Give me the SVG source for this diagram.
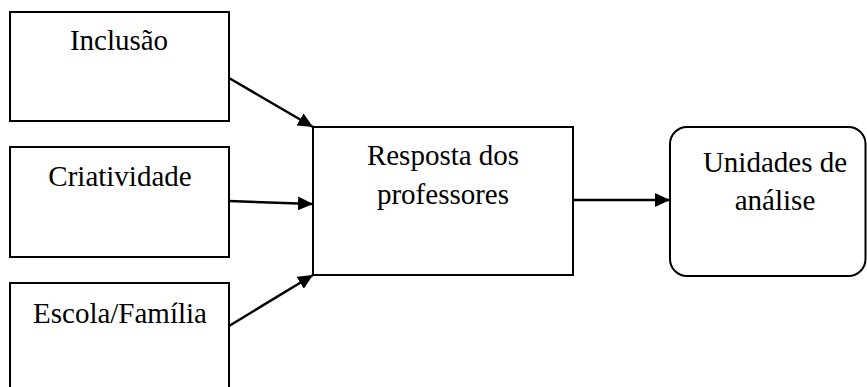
<svg xmlns="http://www.w3.org/2000/svg" width="867" height="387" viewBox="0 0 867 387">
<style>
.box{fill:#fff;stroke:#000;stroke-width:2}
.lbl{font-family:"Liberation Serif","Times New Roman",serif;font-size:29px;fill:#000;text-anchor:middle}
.con{stroke:#000;stroke-width:2.5;fill:none}
</style>
<defs>
<marker id="ah" markerUnits="userSpaceOnUse" markerWidth="16" markerHeight="14" refX="15" refY="7" orient="auto">
<path d="M0,0 L15,7 L0,14 z" fill="#000"/>
</marker>
</defs>
<rect width="867" height="387" fill="#fff"/>
<g id="n-inclusao">
<rect class="box" x="10" y="12" width="219" height="109"/>
<text class="lbl" x="119" y="50">Inclusão</text>
</g>
<g id="n-criatividade">
<rect class="box" x="10" y="147" width="219" height="110"/>
<text class="lbl" x="120" y="186">Criatividade</text>
</g>
<g id="n-escola">
<rect class="box" x="10" y="283" width="219" height="110"/>
<text class="lbl" x="120" y="323">Escola/Família</text>
</g>
<g id="n-resposta">
<rect class="box" x="313" y="127" width="260" height="148"/>
<text class="lbl" x="443" y="165">Resposta dos</text>
<text class="lbl" x="443" y="204">professores</text>
</g>
<g id="n-unidades">
<rect class="box" x="670" y="127" width="195.5" height="149" rx="17" ry="17"/>
<text class="lbl" x="775" y="172">Unidades de</text>
<text class="lbl" x="775" y="210">análise</text>
</g>
<g id="connectors">
<line class="con" x1="229" y1="78" x2="313" y2="127" marker-end="url(#ah)"/>
<line class="con" x1="229" y1="201" x2="313" y2="204" marker-end="url(#ah)"/>
<line class="con" x1="229" y1="326" x2="313" y2="275" marker-end="url(#ah)"/>
<line class="con" x1="573" y1="200" x2="670" y2="200" marker-end="url(#ah)"/>
</g>
</svg>
